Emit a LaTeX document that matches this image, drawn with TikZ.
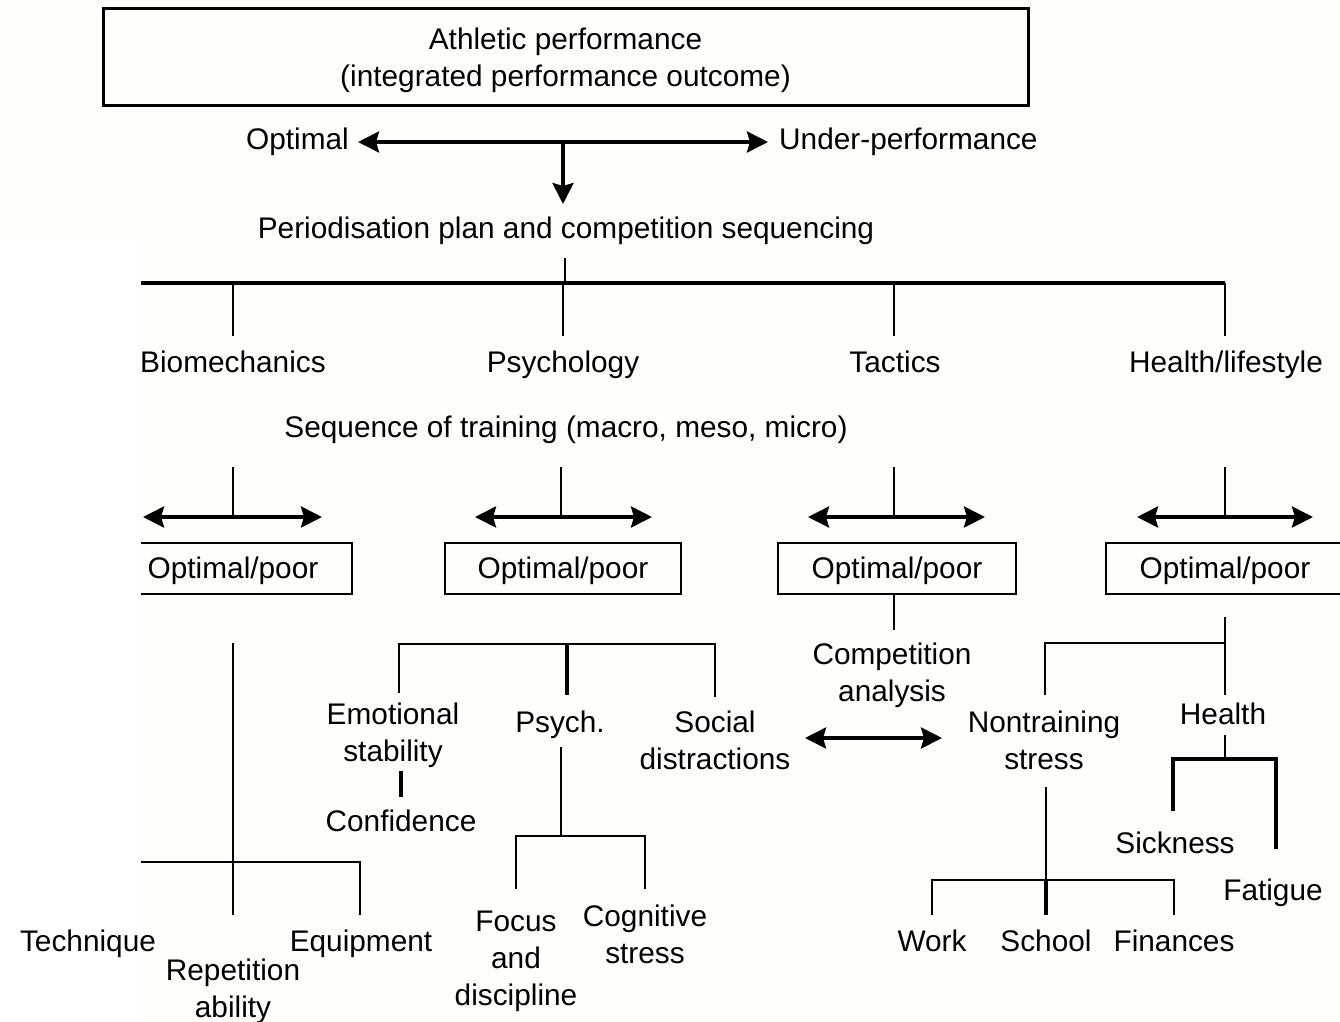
\documentclass[tikz,border=0pt]{standalone}
\usepackage{fontspec}
\setmainfont{Liberation Sans}
\usetikzlibrary{arrows.meta}
\definecolor{paper}{HTML}{FEFEFA}
\begin{document}
\begin{tikzpicture}[x=1pt,y=-1pt,
  lbl/.style={inner sep=0pt, align=center, font=\fontsize{29.8}{37}\selectfont},
  one/.style={lbl, text height=22pt, text depth=6.5pt},
  ln/.style={line width=2.6pt},
  hv/.style={line width=3.6pt},
  tip/.tip={Stealth[length=21pt,width=21pt,inset=3pt]},
  dbl/.style={line width=3.6pt, tip-tip},
  arr/.style={line width=3.6pt, -tip},
  boxln/.style={line width=2.8pt},
  box/.style={one, draw, boxln, minimum height=51pt}]
\useasboundingbox (0,0) rectangle (1340,1021);
\fill[paper] (0,0) rectangle (1340,1021);
\fill[white] (0,238) rectangle (141,1021);

% ---- outcome and its two directions
\node[draw, line width=3pt, minimum width=925pt, minimum height=97pt, inner sep=0pt] (perfbox) at (565.5,56.5) {};
\node[lbl] (perf) at (perfbox.center) [yshift=-3.5pt]
  {Athletic performance\\(integrated performance outcome)};
\node[one, anchor=east] (opt) at (349,142) {Optimal};
\node[one, anchor=west] (under) at (779,142) {Under-performance};
\draw[dbl] ([xshift=9pt]opt.east) -- ([xshift=-11pt]under.west);
\coordinate (fork) at (563,141);
\coordinate (forkend) at (563,204);
\draw[arr] (fork) -- (forkend);

\node[one] (period) at (566,231) {Periodisation plan and competition sequencing};
\coordinate (stemtop) at (565,258);
\coordinate (stem) at (565,283);
\draw[ln] (stemtop) -- (stem);

% ---- main branch bar
\coordinate (barL) at (141,283);
\coordinate (barR) at (1225,283);
\draw[hv] (barL) -- (barR);
\foreach \n/\x in {bio/233, psy/563, tac/894, hl/1225} {
  \coordinate (\n-top) at (\x,283);
  \coordinate (\n-end) at (\x,336);
  \draw[ln] (\n-top) -- (\n-end);
}
\node[one] (bio) at (233,365) {Biomechanics};
\node[one] (psy) at (563,365) {Psychology};
\node[one] (tac) at (895,365) {Tactics};
\node[one] (hl)  at (1226,365) {Health/lifestyle};

\node[one] (seq) at (566,429.5) {Sequence of training (macro, meso, micro)};

% ---- optimal / poor splits
\foreach \n/\x/\l/\r in {bio/233/143/322, psy/561/475/652, tac/894/808/985, hl/1225/1137/1313} {
  \coordinate (\n-s1) at (\x,467);
  \coordinate (\n-s2) at (\x,517);
  \coordinate (\n-al) at (\l,517);
  \coordinate (\n-ar) at (\r,517);
  \draw[ln] (\n-s1) -- (\n-s2);
  \draw[dbl] (\n-al) -- (\n-ar);
}

\coordinate (b1a) at (141,543);
\coordinate (b1b) at (352,543);
\coordinate (b1c) at (352,594);
\coordinate (b1d) at (141,594);
\draw[boxln] (b1a) -- (b1b) -- (b1c) -- (b1d);
\node[one] (op1) at (233,570.5) {Optimal/poor};
\node[box, minimum width=236pt] (op2) at (563,568.5) {};
\node[one] (op2t) at (563,570.5) {Optimal/poor};
\node[box, minimum width=238pt] (op3) at (897,568.5) {};
\node[one] (op3t) at (897,570.5) {Optimal/poor};
\coordinate (b4a) at (1340,543);
\coordinate (b4b) at (1106,543);
\coordinate (b4c) at (1106,594);
\coordinate (b4d) at (1340,594);
\draw[boxln] (b4a) -- (b4b) -- (b4c) -- (b4d);
\node[one] (op4) at (1225,570.5) {Optimal/poor};

% ---- biomechanics subtree
\coordinate (bm-top) at (233,643);
\coordinate (bm-bot) at (233,915);
\coordinate (bm-l) at (141,862);
\coordinate (bm-r) at (360,862);
\coordinate (bm-rd) at (360,915);
\draw[ln] (bm-top) -- (bm-bot);
\draw[ln] (bm-l) -- (bm-r) -- (bm-rd);
\node[one] (tech) at (88,943.5) {Technique};
\node[lbl] (rep) at (233,991) {Repetition\\ability};
\node[one] (equip) at (361,943.5) {Equipment};

% ---- psychology subtree
\coordinate (ps-l) at (399,644);
\coordinate (ps-ld) at (399,693);
\coordinate (ps-m) at (567,644);
\coordinate (ps-md) at (567,695);
\coordinate (ps-r) at (715,644);
\coordinate (ps-rd) at (715,697);
\draw[ln] (ps-ld) -- (ps-l) -- (ps-r) -- (ps-rd);
\draw[hv] (ps-m) -- (ps-md);
\node[lbl] (emo) at (393,735) {Emotional\\stability};
\coordinate (ec-a) at (401,771);
\coordinate (ec-b) at (401,797);
\draw[hv] (ec-a) -- (ec-b);
\node[one] (conf) at (401,823.5) {Confidence};
\node[one] (psych) at (560,724.5) {Psych.};
\node[lbl] (soc) at (715,740) {Social\\distractions};
\coordinate (pc-a) at (561,747);
\coordinate (pc-b) at (561,836);
\coordinate (fo-l) at (516,836);
\coordinate (fo-d) at (516,889);
\coordinate (co-r) at (645,836);
\coordinate (co-d) at (645,889);
\draw[ln] (pc-a) -- (pc-b);
\draw[ln] (fo-d) -- (fo-l) -- (co-r) -- (co-d);
\node[lbl] (focus) at (516,961) {Focus\\and\\discipline};
\node[lbl] (cog) at (645,934) {Cognitive\\stress};

% ---- tactics subtree
\coordinate (tc-b) at (894,630);
\draw[ln] (op3.south -| tc-b) -- (tc-b);
\node[lbl] (comp) at (892,675.5) {Competition\\analysis};
\coordinate (link-l) at (805,738);
\coordinate (link-r) at (942,738);
\draw[dbl] (link-l) -- (link-r);

% ---- health / lifestyle subtree
\coordinate (hs-top) at (1225,617);
\coordinate (hs-bot) at (1225,695);
\coordinate (hs-j) at (1225,643);
\coordinate (nt-l) at (1045,643);
\coordinate (nt-d) at (1045,695);
\draw[ln] (hs-top) -- (hs-bot);
\draw[ln] (hs-j) -- (nt-l) -- (nt-d);
\node[lbl] (nts) at (1044,740) {Nontraining\\stress};
\node[one] (health) at (1223,716.5) {Health};
\coordinate (he-a) at (1225,735);
\coordinate (he-b) at (1225,759);
\coordinate (sk-l) at (1173,759);
\coordinate (sk-d) at (1173,811);
\coordinate (fa-r) at (1276,759);
\coordinate (fa-d) at (1276,849);
\draw[ln] (he-a) -- (he-b);
\draw[hv] (sk-d) -- (sk-l) -- (fa-r) -- (fa-d);
\node[one] (sick) at (1175,845.5) {Sickness};
\node[one] (fat) at (1273,892.5) {Fatigue};
\coordinate (ns-a) at (1046,787);
\coordinate (ns-b) at (1046,880);
\coordinate (ns-c) at (1046,915);
\coordinate (wk-l) at (932,880);
\coordinate (wk-d) at (932,915);
\coordinate (fi-r) at (1174,880);
\coordinate (fi-d) at (1174,915);
\draw[ln] (ns-a) -- (ns-b);
\draw[hv] (ns-b) -- (ns-c);
\draw[ln] (wk-d) -- (wk-l) -- (fi-r) -- (fi-d);
\node[one] (work) at (932,943.5) {Work};
\node[one] (school) at (1046,943.5) {School};
\node[one] (fin) at (1174,943.5) {Finances};
\end{tikzpicture}
\end{document}
